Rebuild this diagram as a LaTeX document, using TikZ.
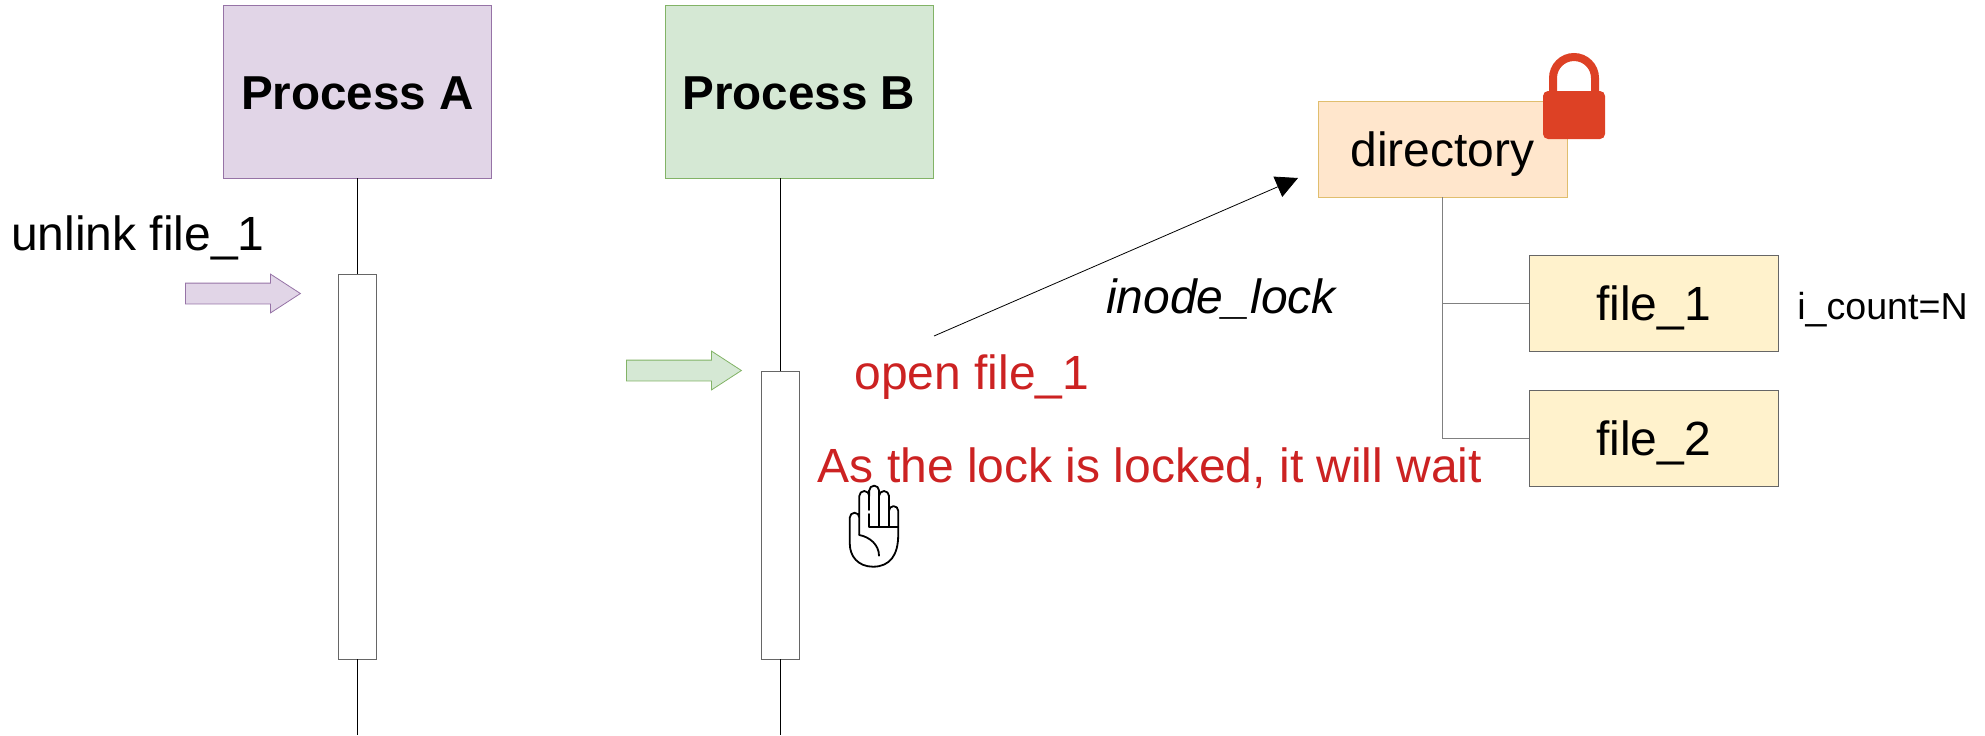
\documentclass[tikz,border=0pt]{standalone}
\usepackage{fontspec}
\setmainfont{Liberation Sans}
\usepackage{tikz}
\usetikzlibrary{arrows.meta, shapes.arrows}

\definecolor{lockred}{HTML}{DD4125}
\definecolor{notered}{HTML}{CC2222}

\tikzset{
  process/.style = {draw, inner sep=0pt, minimum width=134pt, minimum height=86.5pt, text height=18pt, text depth=0pt, font=\fontsize{23.8}{28}\selectfont\bfseries},
  activity/.style = {draw=black!60, fill=white, inner sep=0pt, minimum width=19pt},
  entry/.style = {draw, line width=0.4pt, inner sep=0pt, minimum width=124.5pt, minimum height=48pt, text depth=0pt, font=\fontsize{24}{28}\selectfont},
  label/.style = {inner sep=0pt, font=\fontsize{24}{28}\selectfont},
  call/.style = {single arrow, draw, anchor=tail, inner sep=5pt, line width=0.4pt, minimum height=57.5pt, single arrow head extend=4.5pt, single arrow tip angle=66},
  palm/.style = {line width=0.9pt, line join=round, line cap=round}
}

\begin{document}
\begin{tikzpicture}[x = 0.5pt, y = -0.5pt, line width = 0.4pt]

\useasboundingbox (0, 0) rectangle (1985, 735);

\node[process, fill={rgb,255:red,225;green,213;blue,231}, draw={rgb,255:red,150;green,115;blue,166}] (procA) at (357.5, 91.5) {Process A};
\node[process, fill={rgb,255:red,213;green,232;blue,212}, draw={rgb,255:red,130;green,179;blue,102}] (procB) at (799, 91.5) {Process B};

\node[activity, minimum height=192.5pt] (actA) at (357, 466.5) {};
\node[activity, minimum height=144pt] (actB) at (780, 515) {};

\coordinate (endA) at (357, 735);
\coordinate (endB) at (780, 735);

\draw (procA.south -| actA.north) -- (actA.north);
\draw (actA.south) -- (endA);
\draw (procB.south -| actB.north) -- (actB.north);
\draw (actB.south) -- (endB);

\node[call, fill={rgb,255:red,225;green,213;blue,231}, draw={rgb,255:red,150;green,115;blue,166}] (callA) at (185, 293.5) {};
\node[call, fill={rgb,255:red,213;green,232;blue,212}, draw={rgb,255:red,130;green,179;blue,102}] (callB) at (626, 370.5) {};

\node[label] (unlink) at (138, 238) {unlink file\_1};
\node[label, text=notered] (open) at (972, 377) {open file\_1};
\node[label, text=notered] (wait) at (1150, 468) {As the lock is locked, it will wait};
\node[label] (lock) at (1221, 299) {\itshape inode\_lock};

\node[entry, fill={rgb,255:red,255;green,230;blue,204}, draw={rgb,255:red,224;green,190;blue,110}] (dir) at (1442.5, 149) {directory};
\node[entry, fill={rgb,255:red,255;green,242;blue,204}, draw=black!60] (file1) at (1653.5, 303.5) {file\_1};
\node[entry, fill={rgb,255:red,255;green,242;blue,204}, draw=black!60] (file2) at (1653.5, 438) {file\_2};
\node[inner sep=0pt, font=\fontsize{18.8}{22}\selectfont] (count) at (1882.5, 310) {i\_count=N};

\draw[black!50] (dir.south) |- (file1.west);
\draw[black!50] (dir.south) |- (file2.west);

\coordinate (from) at (934, 336);
\coordinate (to) at (1298, 178);
\draw[-{Triangle[length=11pt, width=11pt]}] (from) -- (to);

% lock
\draw[lockred, line width=4pt] (1553, 95) -- (1553, 78) arc (180:360:21) -- (1595, 95);
\fill[lockred, rounded corners=2.5pt] (1543, 91) rectangle (1605, 139);

% hand
\draw[palm] (859.3, 535) -- (859.3, 496) arc (180:360:5) -- (869.3, 490.5) arc (180:360:4.85) -- (879, 496) arc (180:360:5) -- (889, 510.7) arc (180:360:4.6) -- (898.2, 535) .. controls (898.2, 555) and (890, 566.7) .. (873, 566.7) .. controls (858, 566.7) and (849.8, 556) .. (849.8, 544) -- (849.8, 517.5) arc (180:360:4.75);
\draw[palm] (869.3, 490.5) -- (869.3, 510);
\draw[palm] (869.3, 514) -- (869.3, 526.7) -- (898.2, 526.7);
\draw[palm] (879, 490.5) -- (879, 526.7);
\draw[palm] (889, 496) -- (889, 526.7);
\draw[palm] (859.3, 535) .. controls (870, 537) and (879, 545) .. (879, 555.7);

\end{tikzpicture}
\end{document}
